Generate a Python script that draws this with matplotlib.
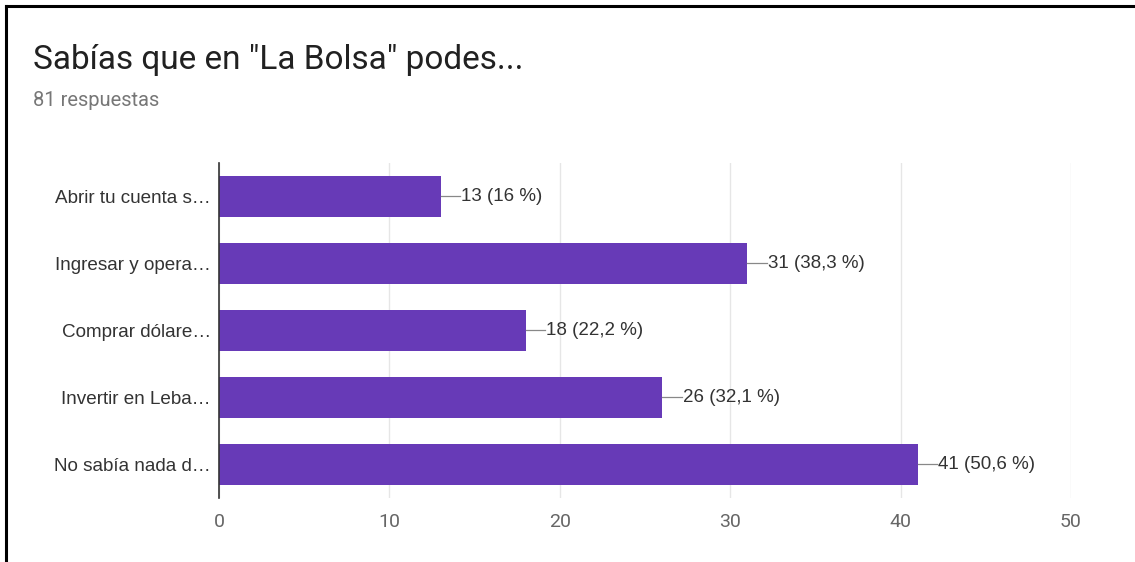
import matplotlib.pyplot as plt
from matplotlib.lines import Line2D

categories = ['Abrir tu cuenta s…', 'Ingresar y opera…', 'Comprar dólare…',
              'Invertir en Leba…', 'No sabía nada d…']
counts = [13, 31, 18, 26, 41]
percents = ['16', '38,3', '22,2', '32,1', '50,6']
xticks = [0, 10, 20, 30, 40, 50]

title = 'Sabías que en "La Bolsa" podes...'
subtitle = '81 respuestas'

bar_color = '#673ab7'
label_font = ['Liberation Sans', 'DejaVu Sans']

fig = plt.figure(figsize=(11.35, 5.62), dpi=100)
ax = fig.add_axes([0.193, 0.114, 0.7506, 0.596])

ypos = list(range(len(categories)))
ax.barh(ypos, counts, height=0.61, color=bar_color, zorder=3)

# etiquetas de valor con su linea guia
for y, c, p in zip(ypos, counts, percents):
    ax.plot([c, c + 1.15], [y, y], color='#888888', lw=0.9, zorder=3)
    ax.text(c + 1.2, y, f'{c} ({p} %)', va='center', ha='left',
            fontsize=13.5, color='#333333', family=label_font)

ax.set_xlim(0, 50)
ax.set_ylim(len(categories) - 0.5, -0.5)
ax.set_xticks(xticks)
ax.set_xticklabels([str(t) for t in xticks], family=['Roboto', 'DejaVu Sans'],
                   fontsize=14, color='#666666')
ax.set_yticks(ypos)
ax.set_yticklabels(categories, family=label_font, fontsize=13.6, color='#333333')
ax.tick_params(length=0, pad=6)
ax.tick_params(axis='x', pad=11)
ax.grid(axis='x', color='#e6e6e6', lw=1, zorder=0)

for s in ['top', 'right', 'bottom']:
    ax.spines[s].set_visible(False)
ax.spines['left'].set_color('#333333')
ax.spines['left'].set_linewidth(1.2)
ax.spines['left'].set_zorder(4)

fig.text(33 / 1135, 1 - 60 / 562, title, fontsize=24, color='#212121',
         family=['Roboto', 'DejaVu Sans'], va='center', ha='left')
fig.text(33 / 1135, 1 - 101 / 562, subtitle, fontsize=14.5, color='#777777',
         family=['Roboto', 'DejaVu Sans'], va='center', ha='left')

# marco negro arriba y a la izquierda
fig.add_artist(Line2D([6 / 1135, 1], [1 - 6 / 562, 1 - 6 / 562],
                      color='black', lw=2.2, transform=fig.transFigure))
fig.add_artist(Line2D([6 / 1135, 6 / 1135], [0, 1 - 6 / 562],
                      color='black', lw=2.2, transform=fig.transFigure))

fig.savefig('out.png', dpi=100, facecolor='white')
